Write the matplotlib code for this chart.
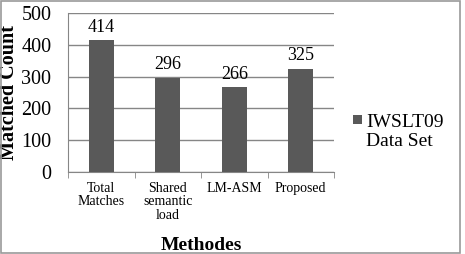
import matplotlib
matplotlib.use("Agg")
import matplotlib.pyplot as plt
from matplotlib.patches import Rectangle

categories = ["Total\nMatches", "Shared\nsemantic\nload", "LM-ASM", "Proposed"]
values = [414, 296, 266, 325]
series_name = "IWSLT09\nData Set"
yticks = [0, 100, 200, 300, 400, 500]

plt.rcParams['font.family'] = ['Liberation Serif', 'DejaVu Serif']

fig = plt.figure(figsize=(4.65, 2.54), dpi=100)
ax = fig.add_axes([68/465, 1-172/254, (334-68)/465, (172-13)/254])

bar_color = '#595959'
bars = ax.bar(range(len(values)), values, width=0.38, color=bar_color, label=series_name, zorder=3)
for i, v in enumerate(values):
    ax.text(i, v + 14, str(v), ha='center', va='bottom', fontsize=13)

ax.set_xlim(-0.5, len(values) - 0.5)
ax.set_ylim(0, 500)
ax.set_yticks(yticks)
ax.set_yticklabels([str(t) for t in yticks], fontsize=14.5)
ax.set_xticks(range(len(values)))
ax.set_xticklabels(categories, fontsize=10, linespacing=1.05)
ax.yaxis.grid(True, color='#868686', linewidth=1, zorder=0)
for s in ['top', 'right']:
    ax.spines[s].set_visible(False)
ax.spines['left'].set_color('#868686')
ax.spines['bottom'].set_color('#868686')
ax.tick_params(axis='y', length=0, pad=12)
ax.tick_params(axis='x', length=0, pad=7)
ax.set_xticks([-0.5, 0.5, 1.5, 2.5, 3.5], minor=True)
ax.tick_params(axis='x', which='minor', length=4, color='#868686', direction='out')

ax.set_ylabel("Matched Count", fontsize=14.5, fontweight='bold', labelpad=0)
ax.yaxis.set_label_coords(-(68-19)/266, 0.5)
ax.set_xlabel("Methodes", fontsize=14, fontweight='bold')
ax.xaxis.set_label_coords(0.5, -(245-172)/159)
ax.xaxis.label.set_va('center')

# legend
fig.patches.append(Rectangle((353/465, 1-124/254), 9/465, 9/254, transform=fig.transFigure,
                             facecolor=bar_color, edgecolor='none'))
fig.text(366/465, 1-132/254, series_name, fontsize=14, ha='left', va='center', linespacing=1.15)

fig.patches.append(Rectangle((0.002, 0.004), 0.988, 0.992, transform=fig.transFigure,
                             fill=False, edgecolor='#9a9a9a', linewidth=1.2))

fig.savefig("out.png", dpi=100)
